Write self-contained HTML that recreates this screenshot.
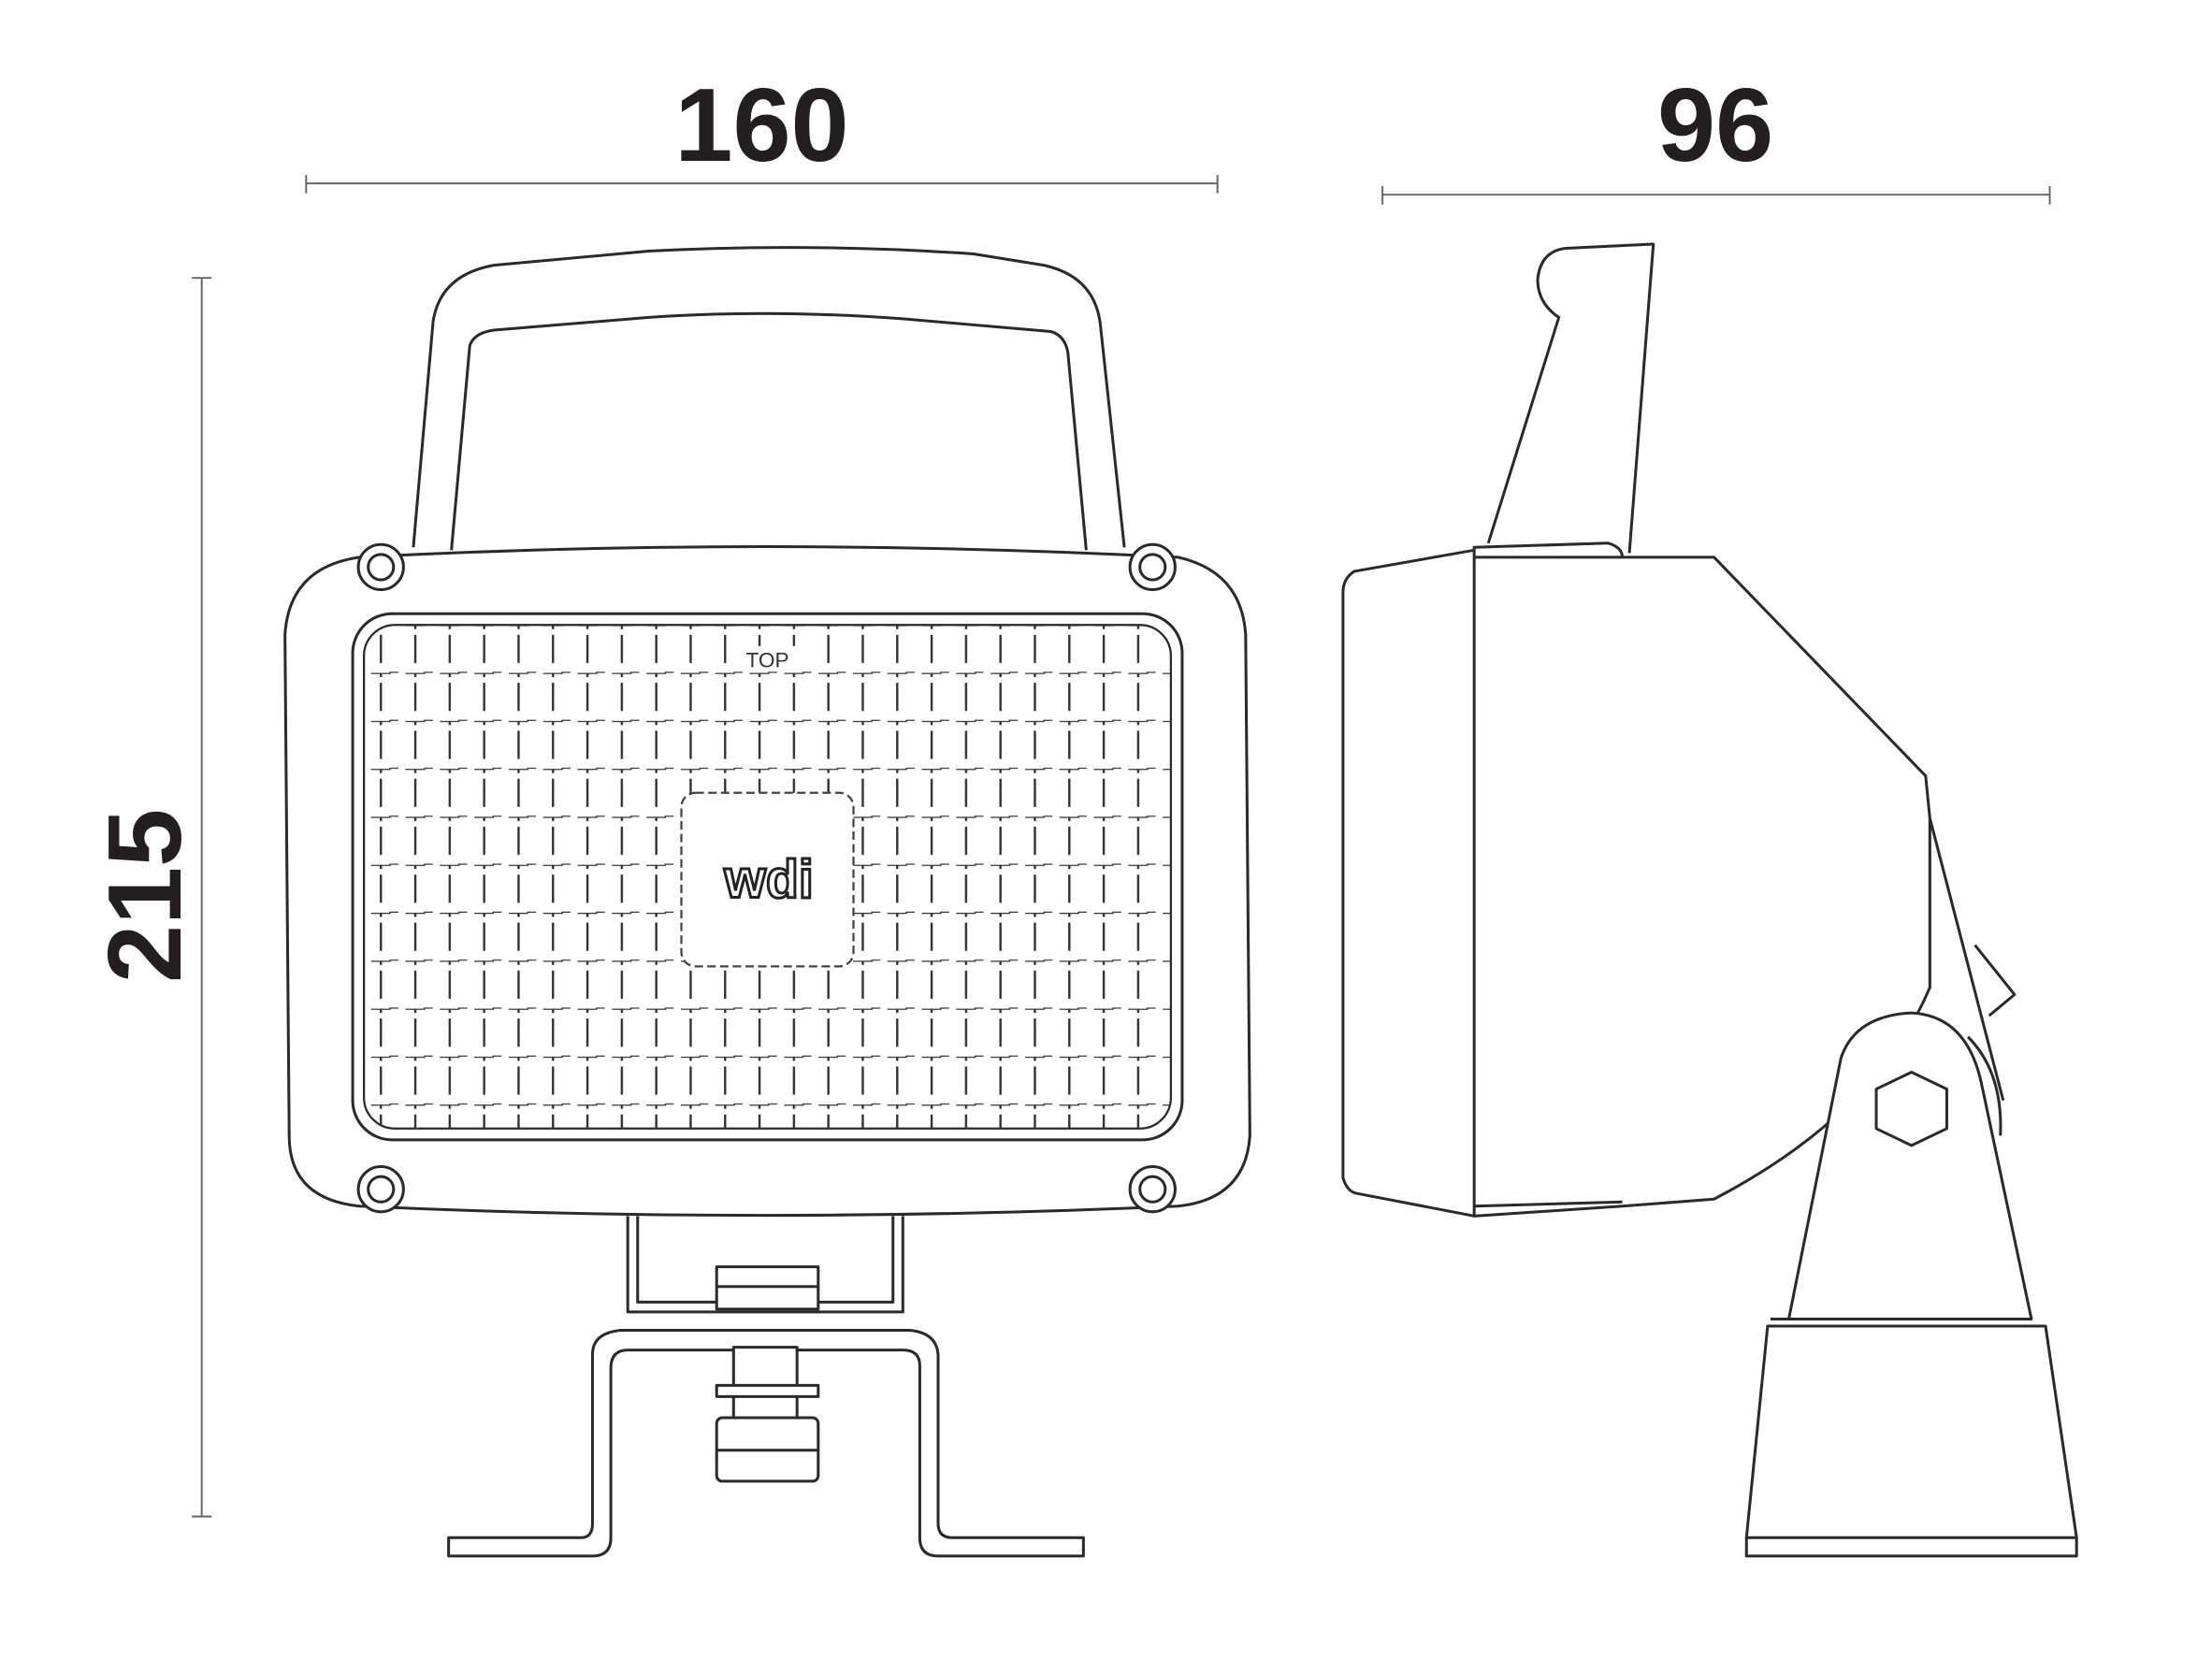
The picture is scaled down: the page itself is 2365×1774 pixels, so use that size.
<!DOCTYPE html>
<html><head><meta charset="utf-8"><style>
html,body{margin:0;padding:0;background:#fff;width:2365px;height:1774px;overflow:hidden}
svg{display:block}
</style></head><body>
<svg width="2365" height="1774" viewBox="0 0 1568 1176" preserveAspectRatio="none" xmlns="http://www.w3.org/2000/svg">
<defs>
<pattern id="grid" x="258" y="443" width="24.4" height="34" patternUnits="userSpaceOnUse">
<g stroke="#333" stroke-width="1.6" fill="none">
<line x1="12" y1="7" x2="12" y2="27"/>
<line x1="5" y1="0" x2="19" y2="0"/>
<line x1="12" y1="-5" x2="12" y2="3"/>
<line x1="18" y1="34" x2="24.4" y2="34"/>
</g>
</pattern>
<clipPath id="lc"><rect x="258" y="443" width="572" height="357" rx="22"/></clipPath>
</defs>
<g fill="#231f20" font-family="Liberation Sans, sans-serif" font-weight="bold">
<text x="540" y="114" font-size="74" text-anchor="middle">160</text>
<text x="1216" y="114" font-size="74" text-anchor="middle">96</text>
<text transform="translate(128,635) rotate(-90)" font-size="74" text-anchor="middle">215</text>
</g>
<g stroke="#666" stroke-width="1.3" fill="none">
<line x1="217" y1="130" x2="863" y2="130"/><line x1="217" y1="124" x2="217" y2="137"/><line x1="863" y1="124" x2="863" y2="137"/>
<line x1="980" y1="138" x2="1453" y2="138"/><line x1="980" y1="132" x2="980" y2="145"/><line x1="1453" y1="132" x2="1453" y2="145"/>
<line x1="143" y1="197" x2="143" y2="1075"/><line x1="136" y1="197" x2="150" y2="197"/><line x1="136" y1="1075" x2="150" y2="1075"/>
</g>
<g stroke="#2a2a2a" stroke-width="2" fill="none" stroke-linejoin="round">
<path d="M293 388 L307 228 Q312 195 350 188 L460 178 Q575 172 690 180 L740 188 Q776 196 780 230 L797 388"/>
<path d="M320 390 L333 245 Q336 236 350 234 L460 225 Q545 219 640 226 L745 235 Q755 238 757 250 L770 390"/>
<path d="M255 395 Q540 380 835 395 Q880 405 883 450 L886 805 Q883 850 835 855 Q540 868 255 855 Q205 850 205 805 L202 450 Q205 402 255 395 Z"/>
<rect x="250" y="435" width="588" height="373" rx="28"/>
<rect x="258" y="443" width="572" height="357" rx="22" stroke-width="1.5"/>
</g>
<rect x="258" y="443" width="572" height="357" fill="url(#grid)" clip-path="url(#lc)"/>
<rect x="483" y="562" width="122" height="123" rx="10" fill="#fff" stroke="#444" stroke-width="1.5" stroke-dasharray="6 3"/>
<text x="545" y="636" font-family="Liberation Sans, sans-serif" font-weight="bold" font-size="38" text-anchor="middle" fill="#fff" stroke="#222" stroke-width="2">wdi</text>
<rect x="520" y="458" width="48" height="18" fill="#fff"/>
<text x="544" y="473" font-family="Liberation Sans, sans-serif" font-size="15" text-anchor="middle" fill="#333">TOP</text>
<g stroke="#2a2a2a" stroke-width="2" fill="#fff">
<circle cx="270" cy="402" r="16"/><circle cx="270" cy="402" r="9"/>
<circle cx="817" cy="402" r="16"/><circle cx="817" cy="402" r="9"/>
<circle cx="270" cy="843" r="16"/><circle cx="270" cy="843" r="9"/>
<circle cx="817" cy="843" r="16"/><circle cx="817" cy="843" r="9"/>
</g>
<g stroke="#2a2a2a" stroke-width="2" fill="none" stroke-linejoin="round">
<path d="M445 862 L445 930 L640 930 L640 862"/>
<path d="M452 862 L452 923 L633 923 L633 862"/>
<rect x="508" y="898" width="72" height="30" fill="#fff"/>
<line x1="508" y1="912" x2="580" y2="912"/>
<path d="M318 1090 L412 1090 Q420 1090 420 1080 L420 960 Q420 945 440 943 L645 943 Q665 945 665 962 L665 1080 Q665 1090 675 1090 L768 1090 L768 1103 L665 1103 Q652 1103 652 1090 L652 968 Q652 957 640 957 L445 957 Q433 957 433 970 L433 1090 Q433 1103 420 1103 L318 1103 Z" fill="#fff"/>
<rect x="520" y="955" width="45" height="50" fill="#fff"/>
<rect x="508" y="982" width="72" height="8" fill="#fff"/>
<rect x="508" y="1005" width="72" height="45" rx="4" fill="#fff"/>
<line x1="508" y1="1028" x2="580" y2="1028"/>
<path d="M1055 385 L1105 225 Q1090 215 1090 198 Q1092 178 1110 176 L1172 173 L1155 392"/>
<path d="M1045 388 L1140 385 Q1150 388 1150 395 L1215 395 L1365 550 L1368 580 L1368 700 Q1330 790 1215 850 L1150 855 L1045 862 Z"/>
<line x1="1045" y1="395" x2="1150" y2="395"/>
<line x1="1045" y1="855" x2="1150" y2="852"/>
<path d="M1045 390 L960 405 Q952 410 952 420 L952 835 Q955 845 962 846 L1045 862"/>
<path d="M1368 580 L1420 780"/>
<path d="M1400 670 L1428 705 L1410 720"/>
<path d="M1268 935 L1305 750 Q1315 720 1355 718 Q1395 720 1405 770 L1440 935 Z" fill="#fff"/>
<path d="M1395 735 Q1420 760 1418 805"/>
<polygon points="1355,760 1380,772 1380,800 1355,812 1330,800 1330,772"/>
<line x1="1255" y1="935" x2="1280" y2="935"/>
<path d="M1253 940 L1450 940 L1472 1090 L1238 1090 Z" fill="#fff"/>
<path d="M1238 1090 L1238 1103 L1472 1103 L1472 1090"/>
</g>
</svg>
</body></html>
